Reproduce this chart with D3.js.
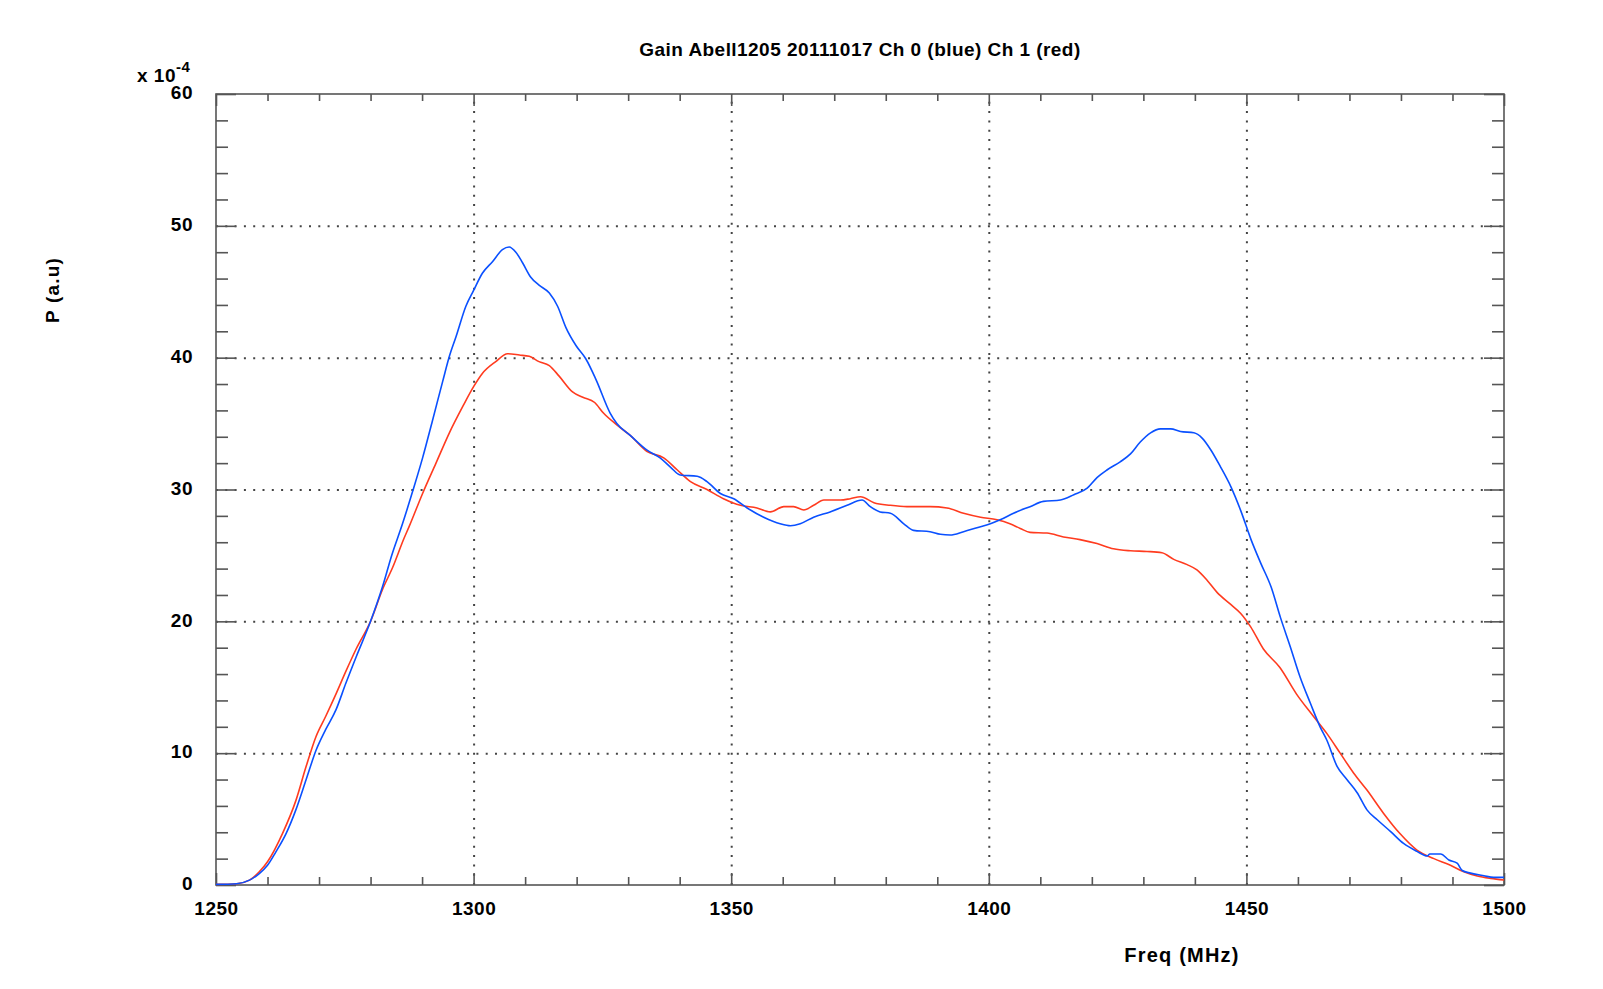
<!DOCTYPE html>
<html>
<head>
<meta charset="utf-8">
<script src="https://cdn.jsdelivr.net/npm/d3@7"></script>
<style>
  html, body { margin: 0; padding: 0; background: #fff; }
  svg { display: block; }
  text { font-family: "Liberation Sans", Arial, Helvetica, sans-serif; font-weight: bold; fill: #000; }
</style>
</head>
<body>
<svg id="chart" width="1603" height="989"></svg>
<script>
// ---------- data ----------
const titleText = "Gain Abell1205 20111017 Ch 0 (blue) Ch 1 (red)";
const xLabel = "Freq (MHz)";
const yLabel = "P (a.u)";
const xTicksMajor = [1250, 1300, 1350, 1400, 1450, 1500];
const yTicksMajor = [0, 10, 20, 30, 40, 50, 60];

// Ch 0 (blue)
const ch0Freq = [1250,1254,1256.5,1258.4,1260,1261.6,1263.6,1265.5,1267.5,1269.4,1271.3,1273.3,1275.2,1277.2,1280,1282.3,1284.1,1286.2,1288.2,1290.1,1292,1294,1295.3,1296.6,1298.5,1300,1301.7,1303.7,1305.6,1306.9,1308.2,1309.5,1311.1,1312.7,1314.7,1316.3,1317.9,1319.9,1321.8,1323.8,1326.5,1327.8,1330.4,1333.6,1336.2,1338.2,1340.1,1343.4,1345.3,1347.9,1350.5,1353.1,1356.3,1359.5,1361.5,1363.4,1366,1369.2,1372.5,1375.4,1377,1378.9,1380.9,1383.5,1385.4,1388.6,1390.6,1392.5,1395.1,1397.7,1400.3,1402.2,1404.8,1408,1410.6,1413.9,1416.5,1419.1,1421,1423,1425.5,1427.5,1429.4,1431.4,1433.3,1435.3,1437.2,1439.8,1441.4,1443.1,1445,1447,1448.9,1450.9,1452.8,1454.8,1456.6,1458.5,1460.4,1462.4,1464.3,1465.6,1467.6,1469.5,1471.5,1473.4,1475.4,1478,1480.5,1483.1,1485.1,1485.6,1487.7,1489.3,1490.9,1491.9,1493.5,1496.1,1498,1500];
const ch0Power = [0.05,0.1,0.37,0.87,1.5,2.5,3.9,5.7,8.0,10.2,11.8,13.3,15.3,17.3,20.0,22.6,25.0,27.4,29.9,32.4,35.2,38.2,40.1,41.6,43.9,45.1,46.4,47.3,48.2,48.4,48.0,47.2,46.1,45.5,44.9,43.9,42.3,40.9,39.9,38.3,35.8,35.0,34.1,33.0,32.4,31.7,31.1,31.0,30.6,29.7,29.3,28.6,27.9,27.4,27.25,27.4,27.9,28.3,28.8,29.2,28.7,28.3,28.2,27.4,26.9,26.8,26.6,26.55,26.8,27.1,27.4,27.7,28.2,28.7,29.1,29.2,29.6,30.1,30.9,31.5,32.1,32.7,33.6,34.3,34.6,34.6,34.4,34.3,33.9,33.0,31.7,30.2,28.4,26.2,24.4,22.6,20.3,18.1,15.8,13.8,12.0,11.0,9.0,8.0,7.0,5.7,4.95,4.05,3.15,2.55,2.2,2.35,2.35,1.9,1.65,1.1,0.9,0.7,0.58,0.58];

// Ch 1 (red)
const ch1Freq = [1250,1254,1256.5,1258.4,1260,1262.9,1265.5,1267.5,1269.4,1271.3,1273.3,1275.2,1277.2,1280,1282.3,1284.3,1286.5,1287.5,1290.1,1292.7,1295.3,1297.9,1300,1301.7,1304.3,1306.6,1308.9,1310.8,1312.7,1314.7,1316.6,1319.2,1321.2,1323.5,1325.2,1327.8,1330.4,1333.6,1336.9,1339.5,1342.1,1345.3,1348.5,1351.8,1355,1357.6,1360.2,1362.1,1364.1,1366,1368,1371.2,1373.1,1375.1,1377.7,1380.9,1384.1,1388.6,1391.9,1395.1,1398.4,1401.6,1404.1,1406.1,1408,1411.3,1414.5,1417.7,1421,1424.2,1427.5,1430.7,1433.6,1435.9,1438.5,1440.4,1442.4,1444.3,1446.9,1448.9,1450.8,1453.3,1456.5,1459.7,1463,1465.6,1468.2,1470.8,1473.4,1476.6,1479.8,1483.1,1486.4,1489.6,1492.2,1494.8,1497.4,1500];
const ch1Power = [0.05,0.1,0.37,1.0,1.76,3.9,6.4,9.0,11.25,12.8,14.5,16.2,17.9,20.0,22.4,24.1,26.3,27.2,29.7,32.0,34.3,36.3,37.8,38.8,39.7,40.3,40.2,40.1,39.7,39.4,38.6,37.4,37.0,36.6,35.8,34.9,34.1,32.9,32.4,31.5,30.6,30.0,29.3,28.8,28.6,28.3,28.7,28.7,28.45,28.8,29.2,29.2,29.3,29.45,29.0,28.8,28.7,28.7,28.6,28.2,27.9,27.7,27.4,27.05,26.75,26.7,26.4,26.2,25.9,25.5,25.35,25.3,25.2,24.7,24.3,23.9,23.1,22.2,21.3,20.6,19.6,17.9,16.5,14.5,12.8,11.5,10.0,8.5,7.2,5.45,3.9,2.65,2.0,1.5,1.0,0.68,0.5,0.38];

// ---------- layout ----------
const mL = 216, mR = 1504, mT = 94, mB = 885;
const W = mR - mL, H = mB - mT;

const svg = d3.select("#chart");
const x = d3.scaleLinear().domain([1250, 1500]).range([mL, mR]);
const y = d3.scaleLinear().domain([0, 60]).range([mB, mT]);

const gridX = d3.range(1300, 1500, 50);
const gridY = d3.range(10, 60, 10);
const minorX = d3.range(1250, 1501, 10).filter(v => v % 50 !== 0);
const minorY = d3.range(0, 61, 2).filter(v => v % 10 !== 0);

// grid (dotted)
const gridColor = "#444";
svg.append("g").attr("transform", `translate(0,${mB})`)
  .call(d3.axisBottom(x).tickValues(gridX).tickSize(-H).tickFormat(""))
  .call(g => g.select(".domain").remove())
  .call(g => g.selectAll("line").attr("stroke", gridColor).attr("stroke-width", 2).attr("stroke-dasharray", "2,7.3"));
svg.append("g").attr("transform", `translate(${mL},0)`)
  .call(d3.axisLeft(y).tickValues(gridY).tickSize(-W).tickFormat(""))
  .call(g => g.select(".domain").remove())
  .call(g => g.selectAll("line").attr("stroke", gridColor).attr("stroke-width", 2).attr("stroke-dasharray", "2,7.3"));

const axisColor = "#555";
function styleTicks(g) {
  g.select(".domain").remove();
  g.selectAll("line").attr("stroke", axisColor).attr("stroke-width", 1.6);
}
// bottom
svg.append("g").attr("transform", `translate(0,${mB})`)
  .call(d3.axisBottom(x).tickValues(minorX).tickSize(-8).tickFormat("")).call(styleTicks);
svg.append("g").attr("transform", `translate(0,${mB})`)
  .call(d3.axisBottom(x).tickValues(xTicksMajor).tickSize(-12).tickPadding(17).tickFormat(d3.format("d"))).call(styleTicks)
  .call(g => g.selectAll("text").style("font-size", "19px").style("letter-spacing", "0.5px"));
// top
svg.append("g").attr("transform", `translate(0,${mT})`)
  .call(d3.axisTop(x).tickValues(minorX).tickSize(-7).tickFormat("")).call(styleTicks);
svg.append("g").attr("transform", `translate(0,${mT})`)
  .call(d3.axisTop(x).tickValues(xTicksMajor).tickSize(-12).tickFormat("")).call(styleTicks);
// left
svg.append("g").attr("transform", `translate(${mL},0)`)
  .call(d3.axisLeft(y).tickValues(minorY).tickSize(-12).tickFormat("")).call(styleTicks);
svg.append("g").attr("transform", `translate(${mL},0)`)
  .call(d3.axisLeft(y).tickValues(yTicksMajor).tickSize(-20).tickPadding(23).tickFormat(d3.format("d"))).call(styleTicks)
  .call(g => g.selectAll("text").style("font-size", "19px").style("letter-spacing", "0.5px").attr("dy", "0.25em"));
// right
svg.append("g").attr("transform", `translate(${mR},0)`)
  .call(d3.axisRight(y).tickValues(minorY).tickSize(-12).tickFormat("")).call(styleTicks);
svg.append("g").attr("transform", `translate(${mR},0)`)
  .call(d3.axisRight(y).tickValues(yTicksMajor).tickSize(-20).tickFormat("")).call(styleTicks);

// frame
svg.append("rect").attr("x", mL).attr("y", mT).attr("width", W).attr("height", H)
  .attr("fill", "none").attr("stroke", axisColor).attr("stroke-width", 1.6);

// curves
const line = d3.line().x(d => x(d[0])).y(d => y(d[1])).curve(d3.curveMonotoneX);
const ch1 = ch1Freq.map((f, i) => [f, ch1Power[i]]);
const ch0 = ch0Freq.map((f, i) => [f, ch0Power[i]]);
svg.append("path").datum(ch1).attr("d", line).attr("fill", "none")
  .attr("stroke", "#ff3b1f").attr("stroke-width", 1.6);
svg.append("path").datum(ch0).attr("d", line).attr("fill", "none")
  .attr("stroke", "#0a50ff").attr("stroke-width", 1.6);

// texts
svg.append("text").attr("x", 860).attr("y", 56).attr("text-anchor", "middle")
  .style("font-size", "19px").style("letter-spacing", "0.45px").text(titleText);
svg.append("text").attr("x", 1182).attr("y", 962).attr("text-anchor", "middle")
  .style("font-size", "20px").style("letter-spacing", "1.2px").text(xLabel);
svg.append("text").attr("transform", "translate(59,290) rotate(-90)").attr("text-anchor", "middle")
  .style("font-size", "19px").style("letter-spacing", "1.2px").text(yLabel);
const sci = svg.append("text").attr("x", 137).attr("y", 82).style("font-size", "19px").style("letter-spacing", "0.5px");
sci.append("tspan").text("x 10");
sci.append("tspan").attr("dy", -10).style("font-size", "15px").text("-4");
</script>
</body>
</html>
